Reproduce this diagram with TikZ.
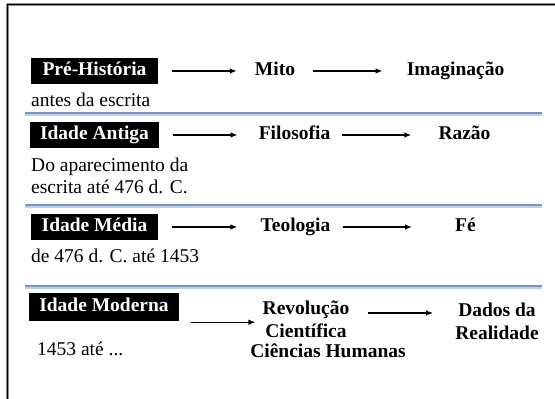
\documentclass[tikz,border=0pt]{standalone}
\usepackage{fontspec}
\setmainfont{Liberation Serif}
\usetikzlibrary{calc, positioning}
\usetikzlibrary{arrows.meta}

\newcommand{\slidefont}{\fontsize{19.5}{22}\selectfont}
\definecolor{rulestrong}{RGB}{118,150,198}
\definecolor{rulesoft}{RGB}{192,208,230}

\tikzset{
  erabox/.style={fill=black, text=white, font=\slidefont\bfseries,
    minimum width=127pt, minimum height=26pt, inner xsep=10pt, inner ysep=0pt,
    text height=13pt, text depth=4pt},
  idea/.style={font=\slidefont\bfseries, inner sep=0pt,
    text height=13pt, text depth=4pt},
  ideastack/.style={font=\fontsize{19.5}{23}\selectfont\bfseries, inner sep=0pt, align=center},
  period/.style={font=\slidefont, anchor=west, inner sep=0pt, align=left},
  flow/.style={-{Latex[length=7pt, width=5.5pt]}, line width=1.3pt},
}

\begin{document}
\begin{tikzpicture}[x=1pt, y=-1pt, line join=round]
\useasboundingbox (0,0) rectangle (555,399);

% Slide frame (only top and left edge show)
\draw[line width=2.6pt, black!45] (7.5,399) -- (7.5,4.5) -- (560,4.5);
\draw[line width=1.6pt, black] (7.5,399) -- (7.5,4.5) -- (560,4.5);

% Dividers between the ages
\foreach \y in {114,206,287} {
  \draw[line width=1.6pt, rulestrong] (25,\y-0.9) -- (542,\y-0.9);
  \draw[line width=1.4pt, rulesoft] (25,\y+0.9) -- (542,\y+0.9);
}

% Pre-historia
\node[erabox] (pre) at (94.5,71) {Pré-História};
\node[idea] (mito) at (275,71) {Mito};
\node[idea] (imag) at (455.5,71) {Imaginação};
\draw[flow, shorten <=14pt, shorten >=18pt] (pre) -- (mito);
\draw[flow, shorten <=18pt, shorten >=24pt] (mito) -- (imag);
\node[period] (preper) at (31,100) {antes da escrita};

% Idade antiga
\node[erabox] (antiga) at (94.5,135) {Idade Antiga};
\node[idea] (filo) at (294.5,135) {Filosofia};
\node[idea] (razao) at (464.5,135) {Razão};
\draw[flow, shorten <=14pt, shorten >=21pt] (antiga) -- (filo);
\draw[flow, shorten <=12pt, shorten >=27pt] (filo) -- (razao);
\node[period] (antigaper) at (31,176) {Do aparecimento da\\escrita até 476 d. C.};

% Idade media
\node[erabox] (media) at (94.5,227) {Idade Média};
\node[idea] (teo) at (295.5,227) {Teologia};
\node[idea] (fe) at (465.5,227) {Fé};
\draw[flow, shorten <=14pt, shorten >=23pt] (media) -- (teo);
\draw[flow, shorten <=12pt, shorten >=43pt] (teo) -- (fe);
\node[period] (mediaper) at (31,256) {de 476 d. C. até 1453};

% Idade moderna
\node[erabox, minimum height=28pt] (moderna) at (104,307) {Idade Moderna};
\node[ideastack] (revol) at (306,319) {Revolução\\Científica};
\node[idea] (humanas) at (328,353) {Ciências Humanas};
\node[ideastack] (dados) at (497,321) {Dados da\\Realidade};
\draw[flow, shorten >=7pt] ([xshift=12pt, yshift=-1pt]moderna.south east)
  -- ([yshift=-1pt]moderna.south east -| revol.west);
\draw[flow, shorten <=18pt, shorten >=22pt] ([yshift=6pt]revol.east)
  -- ([yshift=6pt]revol.east -| dados.west);
\node[period] (modernaper) at (37,349) {1453 até ...};
\end{tikzpicture}
\end{document}
